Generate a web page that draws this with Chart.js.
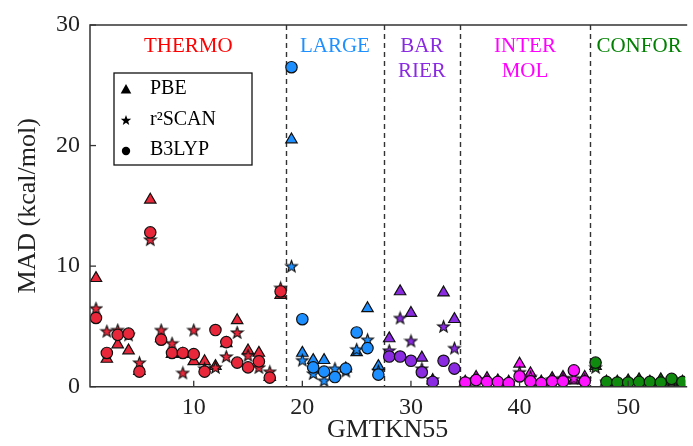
<!DOCTYPE html>
<html>
<head>
<meta charset="utf-8">
<script src="https://cdn.jsdelivr.net/npm/chart.js@4"></script>
<style>
  body { margin:0; background:#fff; }
  #wrap { width:693px; height:446px; }
</style>
</head>
<body>
<div id="wrap"><canvas id="c"></canvas></div>
<script>
/* ============ DATA ============== */
const pbe = [9.0,2.3,3.5,3.0,1.3,15.5,4.0,2.7,2.7,2.1,2.1,1.7,3.6,5.5,3.0,2.8,0.8,7.6,
  20.5,2.8,2.2,2.2,1.0,1.5,2.85,6.5,1.7,
  4.0,7.9,6.1,2.4,0.5,7.8,5.6,
  0.4,0.8,0.7,0.5,0.4,1.9,1.1,0.4,0.7,0.8,0.5,0.8,
  1.7,0.4,0.4,0.5,0.6,0.4,0.6,0.4,0.4];
const r2scan = [6.5,4.6,4.7,4.3,2.0,12.2,4.7,3.6,1.15,4.7,1.5,1.6,2.5,4.5,2.6,1.6,1.25,8.2,
  10.0,2.2,1.1,0.5,1.5,1.3,3.1,3.9,1.3,
  3.0,5.7,3.8,1.5,0.6,5.0,3.2,
  0.3,0.6,0.5,0.4,0.3,1.2,0.8,0.4,0.6,0.7,0.7,0.6,
  1.6,0.4,0.3,0.4,0.4,0.3,0.4,0.5,0.3];
const b3lyp = [5.7,2.8,4.3,4.4,1.25,12.8,3.9,2.8,2.8,2.7,1.25,4.7,3.7,2.0,1.6,2.1,0.75,7.9,
  26.5,5.6,1.6,1.25,0.8,1.5,4.5,3.2,1.0,
  2.5,2.5,2.15,1.2,0.4,2.15,1.5,
  0.35,0.55,0.4,0.4,0.3,0.85,0.45,0.3,0.45,0.45,1.35,0.45,
  2.0,0.4,0.35,0.35,0.4,0.4,0.35,0.65,0.4];

const groupLabels = [["THERMO"],["LARGE"],["BAR","RIER"],["INTER","MOL"],["CONFOR"]];
const groupEnds = [18, 27, 34, 46, 55];
const groupFill = ["#e8283a","#1e8fff","#8a2be2","#ff14ff","#0f8a0f"];
const groupText = ["#ff0000","#1e90ff","#8a2be2","#ff00ff","#008000"];
const xTicks = [10, 20, 30, 40, 50];
const yTicks = [0, 10, 20, 30];
const legendItems = [["triangle","PBE"],["star","r\u00b2SCAN"],["circle","B3LYP"]];

const SERIF = "'Liberation Serif', 'DejaVu Serif', serif";

/* ============ HELPERS ============== */
const groupOf = i => groupEnds.findIndex(e => i + 1 <= e);
const fills = pbe.map((_, i) => groupFill[groupOf(i)]);
const toPts = arr => arr.map((v, i) => ({x: i + 1, y: v}));

function starPath(ctx, cx, cy, ro, ri){
  ctx.beginPath();
  for (let k = 0; k < 10; k++){
    const r = k % 2 ? ri : ro;
    const a = -Math.PI/2 + k * Math.PI/5;
    ctx[k ? "lineTo" : "moveTo"](cx + r*Math.cos(a), cy + r*Math.sin(a));
  }
  ctx.closePath();
}
function starImage(color){
  const cv = document.createElement("canvas");
  cv.width = 15; cv.height = 15;
  const g = cv.getContext("2d");
  starPath(g, 7.5, 8, 6.2, 2.6);
  g.fillStyle = color; g.fill();
  g.lineWidth = 1.1; g.strokeStyle = "#111"; g.stroke();
  return cv;
}
const starImgs = groupFill.map(starImage);
const starStyles = pbe.map((_, i) => starImgs[groupOf(i)]);

/* ============ OVERLAY PLUGIN ============== */
const overlay = {
  id: "overlay",
  beforeDatasetsDraw(chart){
    const {ctx, chartArea: a, scales: {x, y}} = chart;
    ctx.save();
    // dividers
    ctx.strokeStyle = "#333"; ctx.lineWidth = 1.4; ctx.setLineDash([5, 4]);
    groupEnds.slice(0, -1).forEach(e => {
      const px = Math.round(x.getPixelForValue(e + 0.5)) + 0.5;
      ctx.beginPath(); ctx.moveTo(px, a.top); ctx.lineTo(px, a.bottom); ctx.stroke();
    });
    ctx.setLineDash([]);
    // group titles
    ctx.font = "21px " + SERIF; ctx.textAlign = "center"; ctx.textBaseline = "middle";
    let start = 0.5;
    groupLabels.forEach((lines, g) => {
      const cx = x.getPixelForValue((start + groupEnds[g] + 0.5) / 2);
      ctx.fillStyle = groupText[g];
      lines.forEach((t, k) => ctx.fillText(t, cx, a.top + 21 + k * 25));
      start = groupEnds[g] + 0.5;
    });
    ctx.restore();
  },
  afterDraw(chart){
    const {ctx, chartArea: a, scales: {x, y}} = chart;
    ctx.save();
    // frame
    ctx.strokeStyle = "#333"; ctx.lineWidth = 1.5;
    ctx.beginPath();
    ctx.moveTo(a.right + 2, a.top); ctx.lineTo(a.left, a.top);
    ctx.lineTo(a.left, a.bottom); ctx.lineTo(a.right + 2, a.bottom);
    ctx.stroke();
    // inward ticks
    ctx.lineWidth = 1.3;
    xTicks.forEach(v => {
      const px = x.getPixelForValue(v);
      ctx.beginPath(); ctx.moveTo(px, a.bottom); ctx.lineTo(px, a.bottom - 6); ctx.stroke();
    });
    yTicks.forEach(v => {
      const py = y.getPixelForValue(v);
      ctx.beginPath(); ctx.moveTo(a.left, py); ctx.lineTo(a.left + 6, py); ctx.stroke();
    });
    // legend box
    const bx = a.left + 24, by = a.top + 48, bw = 138, bh = 92;
    ctx.fillStyle = "#fff"; ctx.fillRect(bx, by, bw, bh);
    ctx.strokeStyle = "#111"; ctx.lineWidth = 1.3; ctx.strokeRect(bx, by, bw, bh);
    ctx.font = "20px " + SERIF; ctx.textAlign = "left"; ctx.textBaseline = "middle";
    legendItems.forEach(([shape, label], k) => {
      const my = by + 16 + k * 30.5, mx = bx + 12;
      ctx.fillStyle = "#000";
      if (shape === "triangle"){
        ctx.beginPath(); ctx.moveTo(mx, my - 5); ctx.lineTo(mx + 5.3, my + 4.5);
        ctx.lineTo(mx - 5.3, my + 4.5); ctx.closePath(); ctx.fill();
      } else if (shape === "star"){
        starPath(ctx, mx, my + 1, 5.5, 2.3); ctx.fill();
      } else {
        ctx.beginPath(); ctx.arc(mx, my + 1, 4.2, 0, Math.PI*2); ctx.fill();
      }
      ctx.fillText(label, bx + 36, my);
    });
    ctx.restore();
  }
};

/* ============ CHART ============== */
new Chart(document.getElementById("c"), {
  type: "scatter",
  data: {
    datasets: [
      {label:"B3LYP", data: toPts(b3lyp), order: 0, pointStyle: "circle", pointRadius: 5.7,
       backgroundColor: fills, borderColor: "#111", borderWidth: 1.2, clip: 0},
      {label:"r2SCAN", data: toPts(r2scan), order: 1, pointStyle: starStyles, pointRadius: 6,
       backgroundColor: fills, borderColor: "#111", borderWidth: 1.2, clip: 0},
      {label:"PBE", data: toPts(pbe), order: 2, pointStyle: "triangle", pointRadius: 6.6,
       backgroundColor: fills, borderColor: "#111", borderWidth: 1.2, clip: 0}
    ]
  },
  options: {
    responsive: true, maintainAspectRatio: false, animation: false, devicePixelRatio: 1,
    layout: { padding: { top: 25, right: 0, left: 0, bottom: 0 } },
    plugins: { legend: { display: false }, tooltip: { enabled: false } },
    scales: {
      x: {
        type: "linear", min: 0.45, max: 55.25,
        afterBuildTicks: s => { s.ticks = xTicks.map(v => ({value: v})); },
        afterFit: s => { s.height = 59.3; },
        grid: { display: false, drawTicks: false },
        border: { display: false },
        ticks: { color: "#222", padding: 7, font: { family: SERIF, size: 24 } },
        title: { display: true, text: "GMTKN55", color: "#222", padding: 0,
                 font: { family: SERIF, size: 26 } }
      },
      y: {
        min: 0, max: 30,
        afterBuildTicks: s => { s.ticks = yTicks.map(v => ({value: v})); },
        afterFit: s => { s.width = 90; },
        grid: { display: false, drawTicks: false },
        border: { display: false },
        ticks: { color: "#222", padding: 10, font: { family: SERIF, size: 24 } },
        title: { display: true, text: "MAD (kcal/mol)", color: "#222", padding: { top: 13 },
                 font: { family: SERIF, size: 26 } }
      }
    }
  },
  plugins: [overlay]
});
</script>
</body>
</html>
